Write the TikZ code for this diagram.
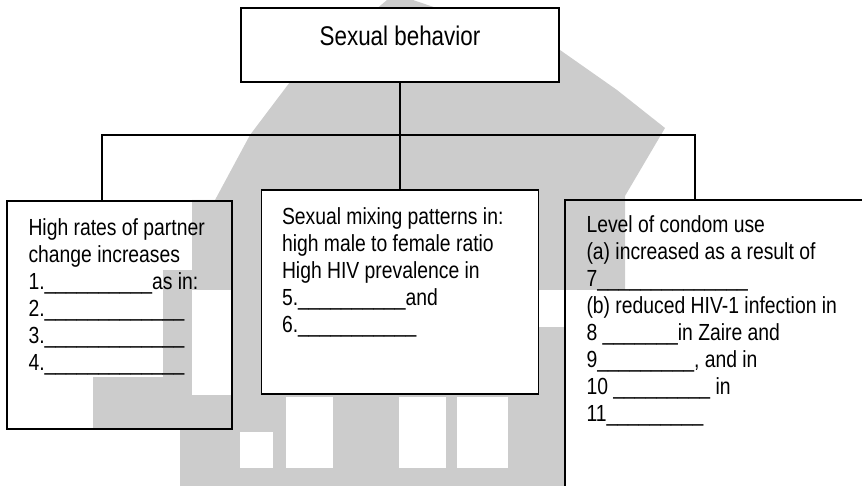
\documentclass[tikz,border=0pt]{standalone}
\usepackage{fontspec}
\setmainfont{Liberation Sans}[FakeStretch=0.83]
\newcommand{\bodyfont}{\fontsize{11.65pt}{13.5pt}\selectfont}
\newcommand{\headfont}{\fontsize{13.5pt}{16pt}\selectfont}
\newcommand{\blank}[1]{\foreach \idx in {1,...,#1}{\_}}
\definecolor{wmgray}{HTML}{CCCCCC}

\tikzset{
  box/.style={draw, rectangle, line width=0.9pt, inner sep=0pt},
  boxtext/.style={anchor=north west, align=left, inner sep=0pt, font=\bodyfont},
  link/.style={line width=0.9pt}
}

\begin{document}
\begin{tikzpicture}[x=0.5pt, y=-0.5pt]
\useasboundingbox (0,0) rectangle (862,486);
\clip (0,0) rectangle (862,486);

% faded watermark behind the chart
\fill[wmgray] (387,0) -- (413,0) -- (560,50) -- (617,90) -- (665,128) -- (625,196)
  -- (625,290) -- (192,290) -- (192,200) -- (215,200) -- (250,135) -- (290,82) -- cycle;
\fill[wmgray] (163,270) rectangle (192,429);
\fill[wmgray] (93,377) rectangle (163,429);
\fill[wmgray] (232,290) rectangle (262,395);
\fill[wmgray] (539,327) rectangle (565,395);
\fill[wmgray] (180,395) rectangle (565,486);
\fill[white] (240,432) rectangle (273,468);
\fill[white] (286,397) rectangle (333,468);
\fill[white] (399,397) rectangle (446,468);
\fill[white] (457,397) rectangle (508,468);

% boxes
\node[box, fill=white, minimum width=159pt, minimum height=37pt] (top) at (400,45) {};
\node[box, minimum width=112.5pt, minimum height=114pt] (left) at (119.5,315) {};
\node[box, fill=white, minimum width=138.5pt, minimum height=102pt] (mid) at (400,292) {};
\node[box, minimum width=167.5pt, minimum height=160pt] (right) at (732.5,360) {};

% texts
\node[inner sep=0pt, font=\headfont] (toptxt) at ([yshift=4.5pt]top.center) {Sexual behavior};
\node[boxtext] (lefttxt) at ([xshift=11pt, yshift=-9pt]left.north west)
  {High rates of partner\\change increases\\1.\blank{10}as in:\\2.\blank{13}\\3.\blank{13}\\4.\blank{13}};
\node[boxtext] (midtxt) at ([xshift=10.5pt, yshift=-9pt]mid.north west)
  {Sexual mixing patterns in:\\high male to female ratio\\High HIV prevalence in\\5.\blank{10}and\\6.\blank{11}};
\node[boxtext] (righttxt) at ([xshift=11pt, yshift=-8pt]right.north west)
  {Level of condom use\\(a) increased as a result of\\7\blank{14}\\(b) reduced HIV-1 infection in\\8 \blank{7}in Zaire and\\9\blank{9}, and in\\10 \blank{9} in\\11\blank{9}};

% connectors
\coordinate (bus) at (400,135);
\draw[link] (top.south) -- (mid.north);
\draw[link] ([xshift=48pt]left.north west) |- (bus) -| ([xshift=65.5pt]right.north west);

\end{tikzpicture}
\end{document}
